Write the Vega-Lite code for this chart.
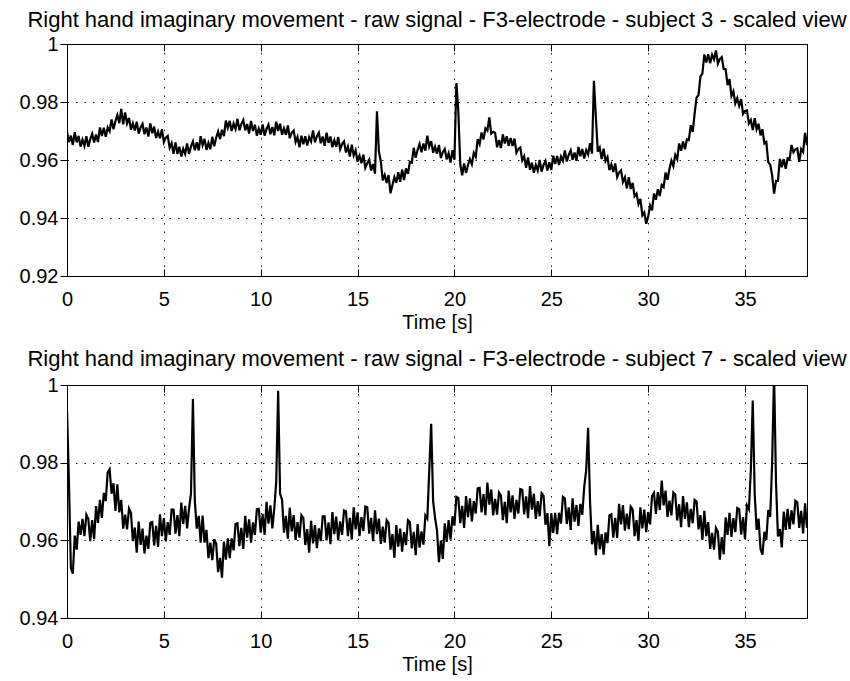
{
"$schema": "https://vega.github.io/schema/vega-lite/v6.json",
"background": "white",
"padding": {"left": 18, "top": 8, "right": 5, "bottom": 5},
"spacing": 14,
"config": {
 "font": "Liberation Sans",
 "view": {"stroke": "#000", "strokeWidth": 1},
 "axis": {"labelColor": "#000", "titleColor": "#000", "tickColor": "#000", "gridColor": "#000", "gridDash": [1.5, 7], "gridWidth": 1, "gridOpacity": 0.9, "domain": false, "labelFlush": false, "labelOverlap": false, "labelFontSize": 20, "titleFontSize": 20, "titleFontWeight": "normal", "labelFont": "Liberation Sans", "titleFont": "Liberation Sans"},
 "title": {"fontSize": 22, "fontWeight": "normal", "color": "#000", "font": "Liberation Sans", "offset": 2}
},
"datasets": {"sig": [
{"t":0,"a":0.9698,"b":0.9935},{"t":0.1,"a":0.9662,"b":0.975},{"t":0.2,"a":0.9684,"b":0.953},{"t":0.3,"a":0.9652,"b":0.9514},{"t":0.4,"a":0.9696,"b":0.9612},{"t":0.5,"a":0.9661,"b":0.9576},{"t":0.6,"a":0.9683,"b":0.9648},{"t":0.7,"a":0.9646,"b":0.9614},{"t":0.8,"a":0.967,"b":0.9655},{"t":0.9,"a":0.9649,"b":0.9611},
{"t":1,"a":0.9682,"b":0.9666},{"t":1.1,"a":0.9646,"b":0.9655},{"t":1.2,"a":0.9672,"b":0.9598},{"t":1.3,"a":0.969,"b":0.9652},{"t":1.4,"a":0.966,"b":0.9603},{"t":1.5,"a":0.9688,"b":0.9688},{"t":1.6,"a":0.9662,"b":0.9645},{"t":1.7,"a":0.9712,"b":0.9704},{"t":1.8,"a":0.9683,"b":0.9658},{"t":1.9,"a":0.9711,"b":0.9722},
{"t":2,"a":0.968,"b":0.9701},{"t":2.1,"a":0.9712,"b":0.9775},{"t":2.2,"a":0.9699,"b":0.9783},{"t":2.3,"a":0.974,"b":0.972},{"t":2.4,"a":0.9706,"b":0.9747},{"t":2.5,"a":0.9734,"b":0.9676},{"t":2.6,"a":0.9755,"b":0.9744},{"t":2.7,"a":0.9727,"b":0.9672},{"t":2.8,"a":0.9776,"b":0.9704},{"t":2.9,"a":0.9723,"b":0.963},
{"t":3,"a":0.9764,"b":0.9666},{"t":3.1,"a":0.9726,"b":0.9628},{"t":3.2,"a":0.9745,"b":0.9682},{"t":3.3,"a":0.9705,"b":0.9671},{"t":3.4,"a":0.9726,"b":0.9598},{"t":3.5,"a":0.9702,"b":0.9633},{"t":3.6,"a":0.9732,"b":0.9568},{"t":3.7,"a":0.9691,"b":0.9648},{"t":3.8,"a":0.9712,"b":0.9588},{"t":3.9,"a":0.9724,"b":0.963},
{"t":4,"a":0.9689,"b":0.9566},{"t":4.1,"a":0.9712,"b":0.9612},{"t":4.2,"a":0.9681,"b":0.9578},{"t":4.3,"a":0.9726,"b":0.9645},{"t":4.4,"a":0.9692,"b":0.9647},{"t":4.5,"a":0.9715,"b":0.9587},{"t":4.6,"a":0.9676,"b":0.9637},{"t":4.7,"a":0.9698,"b":0.9583},{"t":4.8,"a":0.9675,"b":0.9667},{"t":4.9,"a":0.9706,"b":0.9611},
{"t":5,"a":0.9662,"b":0.9657},{"t":5.1,"a":0.9677,"b":0.9597},{"t":5.2,"a":0.9683,"b":0.9647},{"t":5.3,"a":0.9642,"b":0.9614},{"t":5.4,"a":0.9658,"b":0.9679},{"t":5.5,"a":0.9621,"b":0.9679},{"t":5.6,"a":0.9661,"b":0.9617},{"t":5.7,"a":0.9621,"b":0.9665},{"t":5.8,"a":0.9646,"b":0.9611},{"t":5.9,"a":0.9612,"b":0.9697},
{"t":6,"a":0.9639,"b":0.9642},{"t":6.1,"a":0.9621,"b":0.9689},{"t":6.2,"a":0.9657,"b":0.9631},{"t":6.3,"a":0.9621,"b":0.9682},{"t":6.4,"a":0.9647,"b":0.972},{"t":6.5,"a":0.9664,"b":0.9964},{"t":6.6,"a":0.9634,"b":0.97},{"t":6.7,"a":0.9661,"b":0.963},{"t":6.8,"a":0.9633,"b":0.9663},{"t":6.9,"a":0.9682,"b":0.9594},
{"t":7,"a":0.9651,"b":0.9664},{"t":7.1,"a":0.9673,"b":0.9594},{"t":7.2,"a":0.9635,"b":0.9627},{"t":7.3,"a":0.9659,"b":0.9554},{"t":7.4,"a":0.9637,"b":0.9594},{"t":7.5,"a":0.968,"b":0.9549},{"t":7.6,"a":0.9647,"b":0.9603},{"t":7.7,"a":0.9677,"b":0.9591},{"t":7.8,"a":0.9698,"b":0.9518},{"t":7.9,"a":0.9672,"b":0.9555},
{"t":8,"a":0.9704,"b":0.9504},{"t":8.1,"a":0.9682,"b":0.9597},{"t":8.2,"a":0.9736,"b":0.955},{"t":8.3,"a":0.9711,"b":0.9605},{"t":8.4,"a":0.9735,"b":0.9554},{"t":8.5,"a":0.97,"b":0.9605},{"t":8.6,"a":0.9726,"b":0.9574},{"t":8.7,"a":0.9707,"b":0.9642},{"t":8.8,"a":0.9742,"b":0.9644},{"t":8.9,"a":0.9702,"b":0.9585},
{"t":9,"a":0.9724,"b":0.9632},{"t":9.1,"a":0.9738,"b":0.9578},{"t":9.2,"a":0.9702,"b":0.9663},{"t":9.3,"a":0.9724,"b":0.9607},{"t":9.4,"a":0.9691,"b":0.9654},{"t":9.5,"a":0.9735,"b":0.9594},{"t":9.6,"a":0.97,"b":0.9646},{"t":9.7,"a":0.9722,"b":0.9614},{"t":9.8,"a":0.9684,"b":0.968},{"t":9.9,"a":0.9708,"b":0.9681},
{"t":10,"a":0.9687,"b":0.962},{"t":10.1,"a":0.9723,"b":0.9668},{"t":10.2,"a":0.9684,"b":0.9614},{"t":10.3,"a":0.9707,"b":0.9699},{"t":10.4,"a":0.9722,"b":0.9643},{"t":10.5,"a":0.9689,"b":0.969},{"t":10.6,"a":0.9714,"b":0.9631},{"t":10.7,"a":0.9685,"b":0.9682},{"t":10.8,"a":0.9732,"b":0.975},{"t":10.9,"a":0.97,"b":0.9985},
{"t":11,"a":0.9725,"b":0.972},{"t":11.1,"a":0.9687,"b":0.9705},{"t":11.2,"a":0.9709,"b":0.962},{"t":11.3,"a":0.9687,"b":0.9663},{"t":11.4,"a":0.9719,"b":0.9604},{"t":11.5,"a":0.9675,"b":0.9684},{"t":11.6,"a":0.9694,"b":0.9623},{"t":11.7,"a":0.9702,"b":0.9665},{"t":11.8,"a":0.9662,"b":0.9601},{"t":11.9,"a":0.968,"b":0.9647},
{"t":12,"a":0.9644,"b":0.9607},{"t":12.1,"a":0.9684,"b":0.9665},{"t":12.2,"a":0.9654,"b":0.9658},{"t":12.3,"a":0.9682,"b":0.9588},{"t":12.4,"a":0.965,"b":0.9629},{"t":12.5,"a":0.9679,"b":0.9568},{"t":12.6,"a":0.9664,"b":0.965},{"t":12.7,"a":0.9702,"b":0.9592},{"t":12.8,"a":0.9661,"b":0.9639},{"t":12.9,"a":0.9681,"b":0.958},
{"t":13,"a":0.9694,"b":0.9631},{"t":13.1,"a":0.9658,"b":0.9598},{"t":13.2,"a":0.9681,"b":0.9662},{"t":13.3,"a":0.9649,"b":0.9662},{"t":13.4,"a":0.9694,"b":0.96},{"t":13.5,"a":0.9659,"b":0.9646},{"t":13.6,"a":0.9681,"b":0.959},{"t":13.7,"a":0.9644,"b":0.9673},{"t":13.8,"a":0.9668,"b":0.9616},{"t":13.9,"a":0.9646,"b":0.9661},
{"t":14,"a":0.9679,"b":0.96},{"t":14.1,"a":0.9637,"b":0.9649},{"t":14.2,"a":0.9655,"b":0.9614},{"t":14.3,"a":0.9664,"b":0.9677},{"t":14.4,"a":0.9626,"b":0.9675},{"t":14.5,"a":0.9646,"b":0.9611},{"t":14.6,"a":0.9612,"b":0.9658},{"t":14.7,"a":0.9653,"b":0.9602},{"t":14.8,"a":0.9616,"b":0.9685},{"t":14.9,"a":0.9634,"b":0.9628},
{"t":15,"a":0.9594,"b":0.9672},{"t":15.1,"a":0.9614,"b":0.9611},{"t":15.2,"a":0.9589,"b":0.966},{"t":15.3,"a":0.9618,"b":0.9624},{"t":15.4,"a":0.9573,"b":0.9687},{"t":15.5,"a":0.9589,"b":0.9685},{"t":15.6,"a":0.9601,"b":0.9617},{"t":15.7,"a":0.9564,"b":0.9658},{"t":15.8,"a":0.9586,"b":0.9598},{"t":15.9,"a":0.9553,"b":0.9677},
{"t":16,"a":0.9768,"b":0.9616},{"t":16.1,"a":0.963,"b":0.9656},{"t":16.2,"a":0.9595,"b":0.9591},{"t":16.3,"a":0.953,"b":0.9635},{"t":16.4,"a":0.9548,"b":0.9594},{"t":16.5,"a":0.9521,"b":0.9652},{"t":16.6,"a":0.9548,"b":0.9645},{"t":16.7,"a":0.9485,"b":0.9576},{"t":16.8,"a":0.9514,"b":0.9616},{"t":16.9,"a":0.9541,"b":0.9555},
{"t":17,"a":0.9521,"b":0.9639},{"t":17.1,"a":0.9558,"b":0.9584},{"t":17.2,"a":0.9525,"b":0.963},{"t":17.3,"a":0.9567,"b":0.9571},{"t":17.4,"a":0.9531,"b":0.9621},{"t":17.5,"a":0.9571,"b":0.9588},{"t":17.6,"a":0.9552,"b":0.9652},{"t":17.7,"a":0.9594,"b":0.9647},{"t":17.8,"a":0.9591,"b":0.9579},{"t":17.9,"a":0.9642,"b":0.9622},
{"t":18,"a":0.9608,"b":0.9562},{"t":18.1,"a":0.9635,"b":0.9642},{"t":18.2,"a":0.9655,"b":0.9581},{"t":18.3,"a":0.9627,"b":0.9623},{"t":18.4,"a":0.9657,"b":0.9589},{"t":18.5,"a":0.9632,"b":0.9664},{"t":18.6,"a":0.9684,"b":0.9656},{"t":18.7,"a":0.9646,"b":0.978},{"t":18.8,"a":0.9665,"b":0.99},{"t":18.9,"a":0.9625,"b":0.97},
{"t":19,"a":0.9646,"b":0.9658},{"t":19.1,"a":0.9622,"b":0.9625},{"t":19.2,"a":0.9652,"b":0.9544},{"t":19.3,"a":0.9607,"b":0.9599},{"t":19.4,"a":0.9627,"b":0.9552},{"t":19.5,"a":0.9638,"b":0.9644},{"t":19.6,"a":0.9602,"b":0.9596},{"t":19.7,"a":0.9623,"b":0.9652},{"t":19.8,"a":0.9591,"b":0.9602},{"t":19.9,"a":0.9634,"b":0.9662},
{"t":20,"a":0.9601,"b":0.9638},{"t":20.1,"a":0.9865,"b":0.9712},{"t":20.2,"a":0.977,"b":0.9709},{"t":20.3,"a":0.9586,"b":0.9644},{"t":20.4,"a":0.9547,"b":0.9689},{"t":20.5,"a":0.9588,"b":0.9632},{"t":20.6,"a":0.9555,"b":0.9714},{"t":20.7,"a":0.9583,"b":0.966},{"t":20.8,"a":0.9603,"b":0.9708},{"t":20.9,"a":0.9585,"b":0.9649},
{"t":21,"a":0.9625,"b":0.9701},{"t":21.1,"a":0.9611,"b":0.9669},{"t":21.2,"a":0.9672,"b":0.9734},{"t":21.3,"a":0.9655,"b":0.9735},{"t":21.4,"a":0.9695,"b":0.9672},{"t":21.5,"a":0.9671,"b":0.9719},{"t":21.6,"a":0.9709,"b":0.9665},{"t":21.7,"a":0.9701,"b":0.9749},{"t":21.8,"a":0.9747,"b":0.9692},{"t":21.9,"a":0.9691,"b":0.9731},
{"t":22,"a":0.9697,"b":0.9664},{"t":22.1,"a":0.9694,"b":0.9707},{"t":22.2,"a":0.9644,"b":0.9666},{"t":22.3,"a":0.9669,"b":0.9723},{"t":22.4,"a":0.9641,"b":0.9715},{"t":22.5,"a":0.9688,"b":0.9652},{"t":22.6,"a":0.9657,"b":0.9699},{"t":22.7,"a":0.9682,"b":0.9644},{"t":22.8,"a":0.9649,"b":0.9728},{"t":22.9,"a":0.9676,"b":0.9672},
{"t":23,"a":0.9648,"b":0.9716},{"t":23.1,"a":0.9674,"b":0.9655},{"t":23.2,"a":0.9625,"b":0.9704},{"t":23.3,"a":0.9638,"b":0.9669},{"t":23.4,"a":0.9643,"b":0.9732},{"t":23.5,"a":0.9599,"b":0.973},{"t":23.6,"a":0.9613,"b":0.9667},{"t":23.7,"a":0.9573,"b":0.9713},{"t":23.8,"a":0.9609,"b":0.9657},{"t":23.9,"a":0.9566,"b":0.974},
{"t":24,"a":0.9591,"b":0.9679},{"t":24.1,"a":0.9556,"b":0.972},{"t":24.2,"a":0.9583,"b":0.9655},{"t":24.3,"a":0.9564,"b":0.9701},{"t":24.4,"a":0.96,"b":0.9662},{"t":24.5,"a":0.956,"b":0.9721},{"t":24.6,"a":0.9583,"b":0.9715},{"t":24.7,"a":0.9597,"b":0.964},{"t":24.8,"a":0.9564,"b":0.967},{"t":24.9,"a":0.9592,"b":0.9585},
{"t":25,"a":0.9566,"b":0.967},{"t":25.1,"a":0.9615,"b":0.9619},{"t":25.2,"a":0.9586,"b":0.9671},{"t":25.3,"a":0.9614,"b":0.9616},{"t":25.4,"a":0.9583,"b":0.9671},{"t":25.5,"a":0.9612,"b":0.9643},{"t":25.6,"a":0.9597,"b":0.9712},{"t":25.7,"a":0.9633,"b":0.9708},{"t":25.8,"a":0.9595,"b":0.9642},{"t":25.9,"a":0.9618,"b":0.9685},
{"t":26,"a":0.9633,"b":0.9627},{"t":26.1,"a":0.9601,"b":0.9708},{"t":26.2,"a":0.9626,"b":0.9648},{"t":26.3,"a":0.9597,"b":0.9691},{"t":26.4,"a":0.9645,"b":0.9637},{"t":26.5,"a":0.9613,"b":0.9694},{"t":26.6,"a":0.9638,"b":0.9666},{"t":26.7,"a":0.9605,"b":0.9738},{"t":26.8,"a":0.9634,"b":0.978},{"t":26.9,"a":0.9619,"b":0.989},
{"t":27,"a":0.9658,"b":0.97},{"t":27.1,"a":0.9622,"b":0.959},{"t":27.2,"a":0.9873,"b":0.9624},{"t":27.3,"a":0.975,"b":0.9562},{"t":27.4,"a":0.9629,"b":0.964},{"t":27.5,"a":0.9643,"b":0.9577},{"t":27.6,"a":0.9603,"b":0.9616},{"t":27.7,"a":0.9639,"b":0.9563},{"t":27.8,"a":0.9596,"b":0.962},{"t":27.9,"a":0.961,"b":0.9593},
{"t":28,"a":0.9565,"b":0.9664},{"t":28.1,"a":0.9585,"b":0.9667},{"t":28.2,"a":0.9559,"b":0.9607},{"t":28.3,"a":0.9588,"b":0.9658},{"t":28.4,"a":0.9541,"b":0.9606},{"t":28.5,"a":0.9557,"b":0.9694},{"t":28.6,"a":0.9564,"b":0.9641},{"t":28.7,"a":0.9524,"b":0.9691},{"t":28.8,"a":0.954,"b":0.9625},{"t":28.9,"a":0.9502,"b":0.9669},
{"t":29,"a":0.9541,"b":0.9629},{"t":29.1,"a":0.95,"b":0.9687},{"t":29.2,"a":0.9521,"b":0.968},{"t":29.3,"a":0.9475,"b":0.9611},{"t":29.4,"a":0.9484,"b":0.9652},{"t":29.5,"a":0.9448,"b":0.9599},{"t":29.6,"a":0.9466,"b":0.9685},{"t":29.7,"a":0.9409,"b":0.9631},{"t":29.8,"a":0.9419,"b":0.9679},{"t":29.9,"a":0.938,"b":0.9621},
{"t":30,"a":0.9404,"b":0.9673},{"t":30.1,"a":0.9443,"b":0.9641},{"t":30.2,"a":0.9426,"b":0.9714},{"t":30.3,"a":0.9484,"b":0.9722},{"t":30.4,"a":0.9463,"b":0.9668},{"t":30.5,"a":0.9499,"b":0.9724},{"t":30.6,"a":0.9476,"b":0.9678},{"t":30.7,"a":0.9514,"b":0.9754},{"t":30.8,"a":0.9507,"b":0.969},{"t":30.9,"a":0.9557,"b":0.9728},
{"t":31,"a":0.9532,"b":0.966},{"t":31.1,"a":0.9569,"b":0.9702},{"t":31.2,"a":0.9598,"b":0.9664},{"t":31.3,"a":0.9579,"b":0.9723},{"t":31.4,"a":0.9618,"b":0.9718},{"t":31.5,"a":0.9603,"b":0.9651},{"t":31.6,"a":0.9657,"b":0.9693},{"t":31.7,"a":0.9632,"b":0.9634},{"t":31.8,"a":0.9664,"b":0.9714},{"t":31.9,"a":0.9637,"b":0.9655},
{"t":32,"a":0.9671,"b":0.9698},{"t":32.1,"a":0.9669,"b":0.9634},{"t":32.2,"a":0.972,"b":0.9681},{"t":32.3,"a":0.9697,"b":0.9644},{"t":32.4,"a":0.9761,"b":0.9704},{"t":32.5,"a":0.9816,"b":0.97},{"t":32.6,"a":0.9824,"b":0.9628},{"t":32.7,"a":0.9888,"b":0.9665},{"t":32.8,"a":0.9898,"b":0.9601},{"t":32.9,"a":0.9964,"b":0.9676},
{"t":33,"a":0.9936,"b":0.9611},{"t":33.1,"a":0.9965,"b":0.9647},{"t":33.2,"a":0.9934,"b":0.9578},{"t":33.3,"a":0.9963,"b":0.9619},{"t":33.4,"a":0.9947,"b":0.9576},{"t":33.5,"a":0.9978,"b":0.9632},{"t":33.6,"a":0.9932,"b":0.9622},{"t":33.7,"a":0.9948,"b":0.955},{"t":33.8,"a":0.9955,"b":0.9608},{"t":33.9,"a":0.9914,"b":0.9564},
{"t":34,"a":0.9913,"b":0.9659},{"t":34.1,"a":0.9858,"b":0.9614},{"t":34.2,"a":0.9879,"b":0.9671},{"t":34.3,"a":0.9821,"b":0.9609},{"t":34.4,"a":0.9837,"b":0.9657},{"t":34.5,"a":0.9795,"b":0.9621},{"t":34.6,"a":0.9813,"b":0.9683},{"t":34.7,"a":0.9787,"b":0.968},{"t":34.8,"a":0.981,"b":0.9615},{"t":34.9,"a":0.9759,"b":0.966},
{"t":35,"a":0.9769,"b":0.9603},{"t":35.1,"a":0.9771,"b":0.969},{"t":35.2,"a":0.9726,"b":0.968},{"t":35.3,"a":0.9738,"b":0.978},{"t":35.4,"a":0.9703,"b":0.996},{"t":35.5,"a":0.9744,"b":0.972},{"t":35.6,"a":0.9706,"b":0.9627},{"t":35.7,"a":0.9725,"b":0.9656},{"t":35.8,"a":0.9685,"b":0.9578},{"t":35.9,"a":0.9706,"b":0.9563},
{"t":36,"a":0.9657,"b":0.9622},{"t":36.1,"a":0.9662,"b":0.9601},{"t":36.2,"a":0.9592,"b":0.9678},{"t":36.3,"a":0.9584,"b":0.966},{"t":36.4,"a":0.9548,"b":0.98},{"t":36.5,"a":0.9484,"b":1.003},{"t":36.6,"a":0.9528,"b":0.975},{"t":36.7,"a":0.9528,"b":0.961},{"t":36.8,"a":0.9604,"b":0.9629},{"t":36.9,"a":0.9575,"b":0.9582},
{"t":37,"a":0.9603,"b":0.9674},{"t":37.1,"a":0.957,"b":0.9627},{"t":37.2,"a":0.9606,"b":0.9681},{"t":37.3,"a":0.9602,"b":0.9629},{"t":37.4,"a":0.9652,"b":0.9677},{"t":37.5,"a":0.9627,"b":0.9641},{"t":37.6,"a":0.9637,"b":0.9702},{"t":37.7,"a":0.964,"b":0.9698},{"t":37.8,"a":0.9594,"b":0.9632},{"t":37.9,"a":0.9638,"b":0.9676},
{"t":38,"a":0.9628,"b":0.9618},{"t":38.1,"a":0.9694,"b":0.9695},{"t":38.2,"a":0.9651,"b":0.9632}
]},
"vconcat": [
 {
  "width": 740, "height": 232,
  "title": {"text": "Right hand imaginary movement - raw signal - F3-electrode - subject 3 - scaled view"},
  "data": {"name": "sig"},
  "layer": [
   {"mark": {"type": "line", "color": "#000", "strokeWidth": 2.2, "clip": true},
    "encoding": {
     "x": {"field": "t", "type": "quantitative", "scale": {"domain": [0, 38.2], "nice": false, "zero": false},
       "axis": {"orient": "bottom", "values": [0,5,10,15,20,25,30,35], "grid": true, "ticks": true, "tickSize": -7, "labelPadding": 20, "title": "Time [s]", "titlePadding": 3}},
     "y": {"field": "a", "type": "quantitative", "scale": {"domain": [0.92, 1], "nice": false, "zero": false},
       "axis": {"orient": "left", "values": [0.92,0.94,0.96,0.98,1], "format": "~g", "grid": true, "ticks": true, "tickSize": 7, "labelPadding": 2, "title": null}}
    }},
   {"mark": {"type": "line", "opacity": 0},
    "encoding": {
     "x": {"field": "t", "type": "quantitative", "axis": {"orient": "top", "values": [0,5,10,15,20,25,30,35], "grid": false, "labels": false, "tickSize": -7, "title": null}},
     "y": {"field": "a", "type": "quantitative", "axis": {"orient": "right", "values": [0.92,0.94,0.96,0.98,1], "grid": false, "labels": false, "tickSize": -7, "title": null}}
    }}
  ],
  "resolve": {"axis": {"x": "independent", "y": "independent"}}
 },
 {
  "width": 740, "height": 233,
  "title": {"text": "Right hand imaginary movement - raw signal - F3-electrode - subject 7 - scaled view"},
  "data": {"name": "sig"},
  "layer": [
   {"mark": {"type": "line", "color": "#000", "strokeWidth": 2.2, "clip": true},
    "encoding": {
     "x": {"field": "t", "type": "quantitative", "scale": {"domain": [0, 38.2], "nice": false, "zero": false},
       "axis": {"orient": "bottom", "values": [0,5,10,15,20,25,30,35], "grid": true, "ticks": true, "tickSize": -7, "labelPadding": 20, "title": "Time [s]", "titlePadding": 3}},
     "y": {"field": "b", "type": "quantitative", "scale": {"domain": [0.94, 1], "nice": false, "zero": false},
       "axis": {"orient": "left", "values": [0.94,0.96,0.98,1], "format": "~g", "grid": true, "ticks": true, "tickSize": 7, "labelPadding": 2, "title": null}}
    }},
   {"mark": {"type": "line", "opacity": 0},
    "encoding": {
     "x": {"field": "t", "type": "quantitative", "axis": {"orient": "top", "values": [0,5,10,15,20,25,30,35], "grid": false, "labels": false, "tickSize": -7, "title": null}},
     "y": {"field": "b", "type": "quantitative", "axis": {"orient": "right", "values": [0.94,0.96,0.98,1], "grid": false, "labels": false, "tickSize": -7, "title": null}}
    }}
  ],
  "resolve": {"axis": {"x": "independent", "y": "independent"}}
 }
]
}
